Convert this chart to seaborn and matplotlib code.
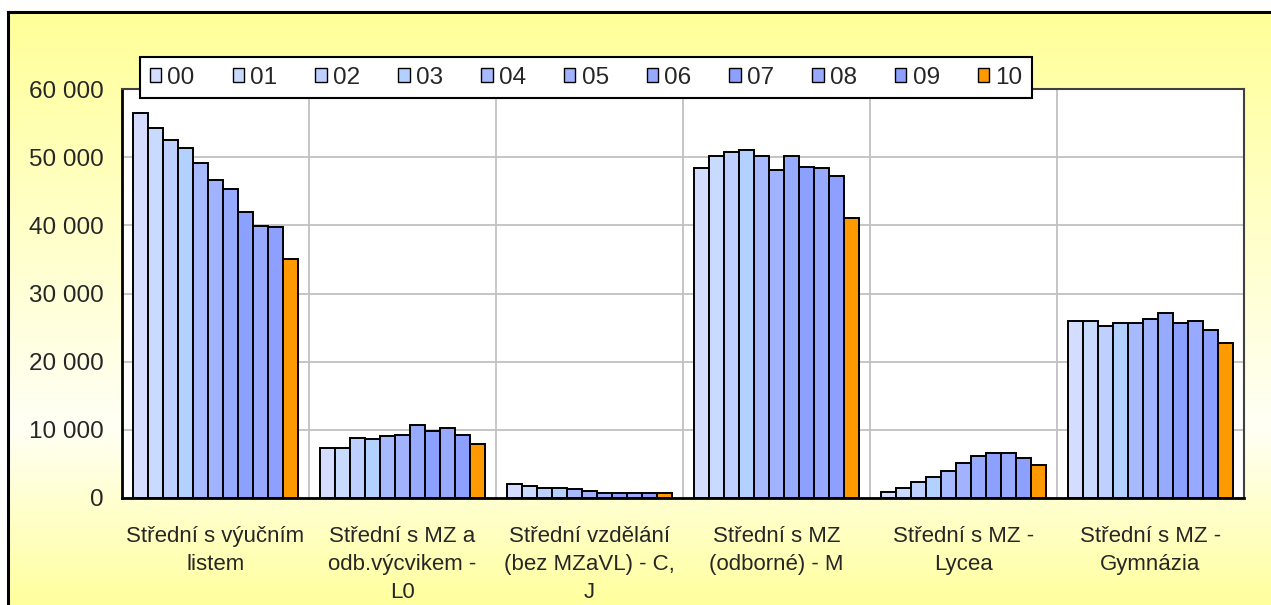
import numpy as np
import pandas as pd
import matplotlib
matplotlib.use("Agg")
import matplotlib.pyplot as plt
from matplotlib.ticker import FuncFormatter, MultipleLocator
import seaborn as sns

# ---- data ----
categories = ["Střední s výučním\nlistem",
              "Střední s MZ a\nodb.výcvikem -\nL0",
              "Střední vzdělání\n(bez MZaVL) - C,\nJ",
              "Střední s MZ\n(odborné) - M",
              "Střední s MZ -\nLycea",
              "Střední s MZ -\nGymnázia"]
years = ["00", "01", "02", "03", "04", "05", "06", "07", "08", "09", "10"]

vyucni = [56500, 54300, 52500, 51400, 49100, 46600, 45400, 42000, 39900, 39800, 35100]
mz_l0 = [7400, 7400, 8800, 8600, 9100, 9300, 10700, 9900, 10200, 9300, 7900]
bez_mz = [2000, 1700, 1500, 1500, 1300, 1100, 800, 800, 800, 800, 800]
mz_odborne = [48400, 50200, 50700, 51100, 50200, 48100, 50200, 48600, 48400, 47300, 41100]
mz_lycea = [900, 1500, 2300, 3100, 3900, 5200, 6100, 6600, 6600, 5900, 4900]
mz_gymnazia = [26000, 26000, 25300, 25700, 25700, 26200, 27100, 25700, 26000, 24600, 22800]

series_by_cat = [vyucni, mz_l0, bez_mz, mz_odborne, mz_lycea, mz_gymnazia]

colors = ["#D4DCFF", "#C9DAFF", "#BDD0FF", "#B3D1FF", "#A7B9FF", "#A1B3FF",
          "#96AAFF", "#8CA1FF", "#97AAFF", "#8DA0FF", "#FF9900"]

rows = []
for cat, vals in zip(categories, series_by_cat):
    for y, v in zip(years, vals):
        rows.append({"cat": cat, "year": y, "value": v})
df = pd.DataFrame(rows)

# ---- figure ----
sns.set_style("white")
plt.rcParams["font.family"] = ["Liberation Sans", "DejaVu Sans"]
FS = 16

W, H = 1271, 605
fig = plt.figure(figsize=(W / 100, H / 100), dpi=100)
fig.patch.set_facecolor("white")

# background gradient panel with border
bg = fig.add_axes([8 / W, 0, 1 - 8 / W, 1 - 12 / H], zorder=-10)
ys = np.linspace(0, 1, 300)
top = np.array([1.0, 1.0, 0.60])
mid = np.array([1.0, 1.0, 0.96])
bot = np.array([1.0, 1.0, 0.62])
pos_mid = 0.70
grad = np.zeros((300, 1, 3))
for i, t in enumerate(ys):
    if t < pos_mid:
        f = t / pos_mid
        grad[i, 0] = top * (1 - f) + mid * f
    else:
        f = (t - pos_mid) / (1 - pos_mid)
        grad[i, 0] = mid * (1 - f) + bot * f
bg.imshow(grad, aspect="auto", extent=[0, 1, 1, 0])
bg.set_xlim(0, 1)
bg.set_ylim(1, 0)
bg.set_xticks([])
bg.set_yticks([])
for s in ["right", "bottom"]:
    bg.spines[s].set_visible(False)
for s in ["left", "top"]:
    bg.spines[s].set_linewidth(2.2)
    bg.spines[s].set_color("black")

ax = fig.add_axes([122 / W, 1 - 498 / H, (1244 - 122) / W, (498 - 89) / H])
ax.set_facecolor("white")
ax.set_axisbelow(True)

sns.barplot(data=df, x="cat", y="value", hue="year", order=categories,
            hue_order=years, palette=colors, width=0.88, saturation=1,
            edgecolor="black", linewidth=1.4, errorbar=None, ax=ax)

ax.set_xlim(-0.5, len(categories) - 0.5)
ax.set_ylim(0, 60000)
ax.yaxis.set_major_locator(MultipleLocator(10000))
ax.yaxis.set_major_formatter(FuncFormatter(lambda v, p: f"{int(v):,}".replace(",", " ")))
ax.set_xlabel("")
ax.set_ylabel("")

ax.set_xticks(range(len(categories)))
ax.set_xticklabels(categories, fontsize=FS, linespacing=1.45)
ax.set_xticks(np.arange(-0.5, len(categories), 1.0), minor=True)
ax.tick_params(axis="x", which="major", length=0, pad=20)
ax.tick_params(axis="x", which="minor", length=7, width=1.3, color="black", direction="out")
ax.tick_params(axis="y", which="major", length=7, width=1.3, color="black",
               direction="out", labelsize=17.5, pad=6)

ax.grid(axis="y", which="major", color="#C0C0C0", linewidth=1.3)
ax.grid(axis="x", which="minor", color="#C0C0C0", linewidth=1.3)
ax.grid(axis="x", which="major", visible=False)

for s in ["left", "bottom"]:
    ax.spines[s].set_color("black")
    ax.spines[s].set_linewidth(2)
for s in ["top", "right"]:
    ax.spines[s].set_color("#404040")
    ax.spines[s].set_linewidth(1.5)

handles, labels = ax.get_legend_handles_labels()
if ax.get_legend() is not None:
    ax.get_legend().remove()
leg = fig.legend(handles, labels, loc="upper left",
                 bbox_to_anchor=(140 / W, 1 - 57 / H), bbox_transform=fig.transFigure,
                 ncol=len(years), fontsize=17.5, frameon=True, fancybox=False,
                 framealpha=1, edgecolor="black", handlelength=0.48,
                 handleheight=0.48, handletextpad=0.25, columnspacing=1.56,
                 borderpad=0.4, borderaxespad=0)
leg.get_frame().set_linewidth(1.5)
leg.set_zorder(20)
for h in leg.legend_handles:
    h.set_edgecolor("black")
    h.set_linewidth(1.0)

fig.savefig("out.png", dpi=100)
